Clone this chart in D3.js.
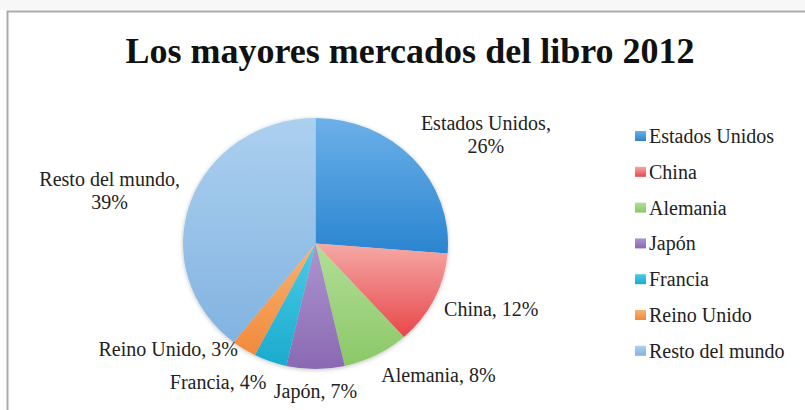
<!DOCTYPE html>
<html>
<head>
<meta charset="utf-8">
<script src="https://cdn.jsdelivr.net/npm/d3@7"></script>
<style>
  body { margin: 0; background: #ffffff; }
  svg { display: block; }
</style>
</head>
<body>
<svg id="chart" width="805" height="410"></svg>
<script>
// Book market shares, 2012 (percent of world market)
const categories = ["Estados Unidos", "China", "Alemania", "Japón", "Francia", "Reino Unido", "Resto del mundo"];
const shares = [26, 12, 8, 7, 4, 3, 39];
const colorsTop = ["#6cb0e8", "#f5a9a6", "#b3de98", "#ad95cf", "#4ccbe6", "#fab273", "#acd0ef"];
const colorsBottom = ["#2a85d0", "#e8474a", "#8bc867", "#8a69b3", "#1aaacd", "#f08a3a", "#82b3e1"];
const chartTitle = "Los mayores mercados del libro 2012";

const svg = d3.select("#chart");
const W = 805, H = 410;
const serif = "'Liberation Serif', 'Times New Roman', serif";

// frame
svg.append("rect").attr("x", 0).attr("y", 0).attr("width", W).attr("height", 10).attr("fill", "#f7f7f7");
svg.append("path")
  .attr("d", `M${7.5},${H} V${11.5} H${W}`)
  .attr("fill", "none").attr("stroke", "#a9abaa").attr("stroke-width", 2);

// title
svg.append("text")
  .attr("x", 410).attr("y", 63)
  .attr("text-anchor", "middle")
  .attr("font-family", serif).attr("font-weight", "bold").attr("font-size", 36)
  .attr("fill", "#111")
  .text(chartTitle);

const defs = svg.append("defs");
categories.forEach((c, i) => {
  const g = defs.append("linearGradient").attr("id", "grad" + i)
    .attr("x1", 0).attr("y1", 0).attr("x2", 0).attr("y2", 1);
  g.append("stop").attr("offset", "0%").attr("stop-color", colorsTop[i]);
  g.append("stop").attr("offset", "100%").attr("stop-color", colorsBottom[i]);
});
const shadow = defs.append("filter").attr("id", "shadow")
  .attr("x", "-10%").attr("y", "-10%").attr("width", "120%").attr("height", "120%");
shadow.append("feDropShadow").attr("dx", 0).attr("dy", 1).attr("stdDeviation", 2)
  .attr("flood-color", "#000").attr("flood-opacity", 0.25);

// pie geometry (slightly elliptical)
const cx = 315.5, cy = 243.5, rx = 132.5, ry = 125.5;
const yScale = ry / rx;

const data = categories.map((c, i) => ({ name: c, value: shares[i], idx: i }));
const pie = d3.pie().sort(null).value(d => d.value).startAngle(0).endAngle(2 * Math.PI);
const arcs = pie(data);
const arc = d3.arc().innerRadius(0).outerRadius(rx);

const pieG = svg.append("g")
  .attr("transform", `translate(${cx},${cy}) scale(1,${yScale})`)
  .attr("filter", "url(#shadow)");
pieG.selectAll("path.slice").data(arcs).enter().append("path")
  .attr("class", "slice")
  .attr("d", arc)
  .attr("fill", d => `url(#grad${d.data.idx})`);

// data labels, placed outside each slice
const fs = 20, lineH = 23, gap = 11;
const clamp = v => Math.max(-1, Math.min(1, v));
const labelG = svg.append("g");
const labels = arcs.map(a => {
  const mid = (a.startAngle + a.endAngle) / 2;
  const s = Math.sin(mid), c = Math.cos(mid);
  const pct = a.data.value + "%";
  const lines = a.data.name.length >= 13 ? [a.data.name + ",", pct] : [a.data.name + ", " + pct];
  const t = labelG.append("text")
    .attr("font-family", serif).attr("font-size", fs).attr("fill", "#222")
    .attr("text-anchor", "middle");
  lines.forEach(l => t.append("tspan").text(l));
  let w = 0;
  t.selectAll("tspan").each(function () { w = Math.max(w, this.getComputedTextLength()); });
  const h = lines.length * lineH;
  const px = (rx + gap) * s, py = -(ry + gap) * c;
  return {
    node: t, lines, w, h,
    x: cx + px + (w / 2) * clamp(3 * s),
    y: cy + py + (h / 2) * clamp(-c)
  };
});

// push overlapping labels apart vertically
for (let j = 1; j < labels.length; j++) {
  for (let i = 0; i < j; i++) {
    const A = labels[i], B = labels[j];
    const ox = Math.abs(A.x - B.x) < (A.w + B.w) / 2;
    const oy = Math.abs(A.y - B.y) < (A.h + B.h) / 2;
    if (ox && oy) {
      const pad = 10;
      if (B.y < A.y) B.y = A.y - (A.h + B.h) / 2 - pad;
      else B.y = A.y + (A.h + B.h) / 2 + pad;
    }
  }
}

labels.forEach(L => {
  const top = L.y - L.h / 2;
  L.node.selectAll("tspan")
    .attr("x", L.x)
    .attr("y", (d, k) => top + k * lineH + lineH / 2 + fs * 0.33);
});

// legend
const legendX = 635, legendY0 = 143, legendStep = 35.8;
const legend = svg.append("g");
categories.forEach((c, i) => {
  const y = legendY0 + i * legendStep;
  legend.append("rect")
    .attr("x", legendX).attr("y", y - 12).attr("width", 11).attr("height", 10)
    .attr("fill", `url(#grad${i})`);
  legend.append("text")
    .attr("x", legendX + 14).attr("y", y)
    .attr("font-family", serif).attr("font-size", fs).attr("fill", "#222")
    .text(c);
});
</script>
</body>
</html>
